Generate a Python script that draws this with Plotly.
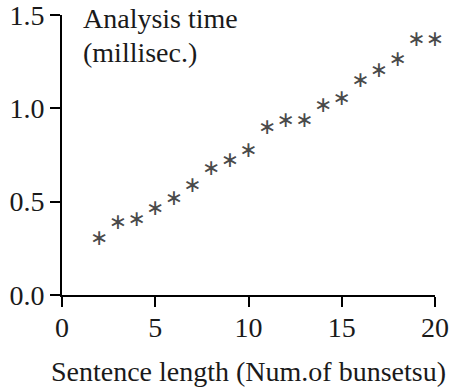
import plotly.graph_objects as go

sentence_length = [2, 3, 4, 5, 6, 7, 8, 9, 10, 11, 12, 13, 14, 15, 16, 17, 18, 19, 20]
analysis_time = [0.30, 0.385, 0.40, 0.46, 0.51, 0.58, 0.67, 0.715, 0.77, 0.89, 0.93, 0.93,
                 1.01, 1.05, 1.145, 1.20, 1.255, 1.365, 1.365]
x_ticks = [0, 5, 10, 15, 20]
y_ticks = [0.0, 0.5, 1.0, 1.5]

FONT = "Liberation Serif"
FS = 28
INK = "#1a1a1a"

fig = go.Figure()
fig.add_trace(go.Scatter(
    x=sentence_length, y=analysis_time, mode="text",
    text=["∗"] * len(sentence_length),
    textfont=dict(family="DejaVu Sans", size=22, color="#4a4a4a"),
    textposition="middle center",
    cliponaxis=False, showlegend=False, hoverinfo="x+y",
))

fig.update_layout(
    width=472, height=389,
    margin=dict(l=62, r=37, t=15, b=94),
    plot_bgcolor="white", paper_bgcolor="white",
    font=dict(family=FONT, size=FS, color=INK),
    xaxis=dict(range=[0, 20], tickvals=x_ticks, ticks="outside", ticklen=10,
               tickwidth=2, tickcolor="black", showline=True, linecolor="black", linewidth=2,
               showgrid=False, zeroline=False, automargin=False,
               ticklabelstandoff=-4, ticklabeloverflow="allow",
               title=dict(text="Sentence length (Num.of bunsetsu)", standoff=20,
                          font=dict(family=FONT, size=FS, color=INK)),
               tickfont=dict(family=FONT, size=FS, color=INK)),
    yaxis=dict(range=[0, 1.5], tickvals=y_ticks, tickformat=".1f", ticks="outside",
               ticklen=10, tickwidth=2, tickcolor="black", showline=True, linecolor="black",
               linewidth=2, showgrid=False, zeroline=False, automargin=False,
               ticklabelstandoff=0, ticklabeloverflow="allow",
               tickfont=dict(family=FONT, size=FS, color=INK)),
    annotations=[
        dict(text="Analysis time", xref="paper", yref="paper", x=0.05, y=0.9875,
             xanchor="left", yanchor="middle", showarrow=False, align="left",
             font=dict(family=FONT, size=FS, color=INK)),
        dict(text="(millisec.)", xref="paper", yref="paper", x=0.05, y=0.866,
             xanchor="left", yanchor="middle", showarrow=False, align="left",
             font=dict(family=FONT, size=FS, color=INK)),
    ],
)

fig.write_html("out.html", config={"displayModeBar": False},
               post_script="document.body.style.margin='0px';")
